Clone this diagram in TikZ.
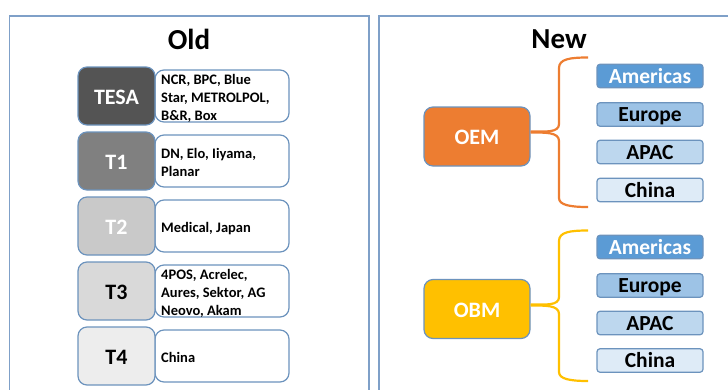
\documentclass[tikz,border=0pt]{standalone}
\usepackage{fontspec}
\setmainfont{Carlito}
\definecolor{edgeblue}{HTML}{6C93BD}
\definecolor{framec}{HTML}{7FA0C8}
\definecolor{oemc}{HTML}{ED7D31}
\definecolor{obmc}{HTML}{FFC000}
\definecolor{r1}{RGB}{91,155,213}
\definecolor{r2}{RGB}{157,195,230}
\definecolor{r3}{RGB}{189,215,238}
\definecolor{r4}{RGB}{222,235,247}
\tikzset{
  x=1pt,y=-1pt,
  framebox/.style={draw=framec,line width=1.2pt},
  tier/.style={draw=edgeblue,line width=1.2pt,rounded corners=9pt,minimum width=77pt,minimum height=58pt,inner sep=0pt,text height=16pt,text depth=0pt,font=\bfseries\fontsize{22}{22}\selectfont},
  detail/.style={draw=edgeblue,line width=1.2pt,rounded corners=9pt,fill=white,minimum width=134pt,minimum height=52pt,inner sep=0pt},
  detailtext/.style={anchor=west,align=left,inner sep=0pt,execute at begin node=\strut,execute at end node=\strut,font=\bfseries\fontsize{14.5}{18}\selectfont},
  title/.style={inner sep=0pt,font=\bfseries\fontsize{29}{29}\selectfont},
  group/.style={draw=edgeblue,line width=1.2pt,rounded corners=9pt,minimum width=106pt,minimum height=59pt,inner sep=0pt,text=white,text height=16pt,text depth=0pt,font=\bfseries\fontsize{22}{22}\selectfont},
  region/.style={draw=edgeblue,line width=1.2pt,rounded corners=3pt,minimum width=106pt,minimum height=23.5pt,inner sep=0pt,text height=18pt,text depth=4pt,font=\bfseries\fontsize{21.5}{21.5}\selectfont},
  brace/.style={line width=2.2pt},
}
\begin{document}
\begin{tikzpicture}
\useasboundingbox (0,0) rectangle (728,389);
\clip (0,0) rectangle (728,389);
\draw[framebox] (9.5,400) -- (9.5,16) -- (369,16) -- (369,400);
\draw[framebox] (379,400) -- (379,16) -- (740,16);
\node[title] (old) at (189,39) {Old};
\node[title] (new) at (559,39) {New};
% detail boxes
\node[detail] (d0) at (222,96) {};
\node[detail] (d1) at (222,161) {};
\node[detail] (d2) at (222,226) {};
\node[detail] (d3) at (222,291) {};
\node[detail] (d4) at (222,356) {};
% tier boxes
\node[tier,fill=black!67,text=white] (t0) at (116.5,96) {TESA};
\node[tier,fill=black!50,text=white] (t1) at (116.5,161) {T1};
\node[tier,fill=black!21,text=white] (t2) at (116.5,226) {T2};
\node[tier,fill=black!15] (t3) at (116.5,291) {T3};
\node[tier,fill=black!7] (t4) at (116.5,356) {T4};
\node[detailtext] (x0) at (161,100) {NCR, BPC, Blue\\Star, METROLPOL,\\B\&R, Box};
\node[detailtext] (x1) at (161,165) {DN, Elo, Iiyama,\\Planar};
\node[detailtext] (x2) at (161,229) {Medical, Japan};
\node[detailtext] (x3) at (161,295) {4POS, Acrelec,\\Aures, Sektor, AG\\Neovo, Akam};
\node[detailtext] (x4) at (161,358.5) {China};
% groups
\node[group,fill=oemc] (oem) at (477,136.5) {OEM};
\node[group,fill=obmc] (obm) at (477,309) {OBM};
% regions OEM
\node[region,fill=r1,text=white] (a1) at (650,76) {Americas};
\node[region,fill=r2] (e1) at (650,114.5) {Europe};
\node[region,fill=r3] (p1) at (650,152) {APAC};
\node[region,fill=r4] (c1) at (650,190) {China};
% regions OBM
\node[region,fill=r1,text=white] (a2) at (650,247) {Americas};
\node[region,fill=r2] (e2) at (650,285.5) {Europe};
\node[region,fill=r3] (p2) at (650,323) {APAC};
\node[region,fill=r4] (c2) at (650,360.5) {China};
% braces
\coordinate (b1t) at (588,57.5);
\coordinate (b1b) at (588,207);
\coordinate (b2t) at (588,230.5);
\coordinate (b2b) at (588,381);
\draw[brace,oemc] (oem.east |- 0,131.5) .. controls (545,131.5) and (559,133) .. (559,124) -- (559,68) .. controls (559,59) and (570,57.5) .. (b1t);
\draw[brace,oemc] (oem.east |- 0,132.5) .. controls (545,132.5) and (559,132) .. (559,141) -- (559,198) .. controls (559,205) and (570,207) .. (b1b);
\draw[brace,obmc] (obm.east |- 0,304.5) .. controls (545,304.5) and (559,306) .. (559,297) -- (559,241) .. controls (559,232) and (570,230.5) .. (b2t);
\draw[brace,obmc] (obm.east |- 0,305.5) .. controls (545,305.5) and (559,305) .. (559,314) -- (559,372) .. controls (559,379) and (570,381) .. (b2b);
\end{tikzpicture}
\end{document}
